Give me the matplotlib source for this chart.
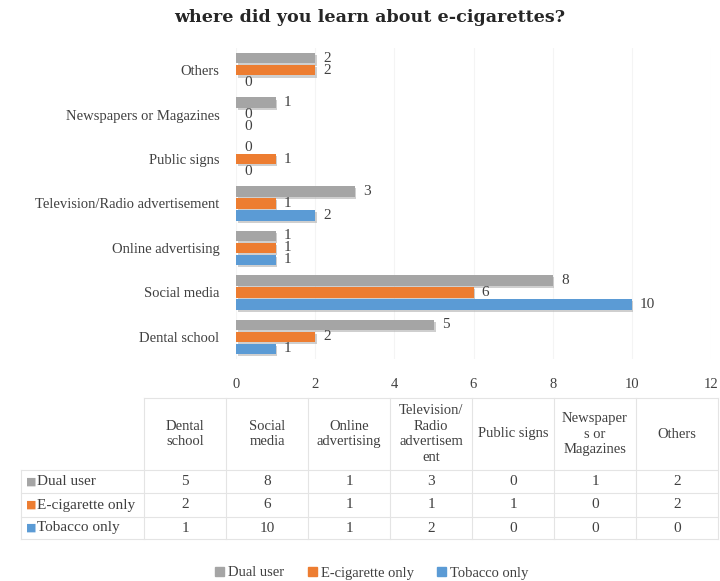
import matplotlib
matplotlib.use("Agg")
import matplotlib.pyplot as plt
import matplotlib.patheffects as pe
import numpy as np

W, H = 720, 581

categories = ["Dental school", "Social media", "Online advertising",
              "Television/Radio advertisement", "Public signs",
              "Newspapers or Magazines", "Others"]
table_headers = ["Dental\nschool", "Social\nmedia", "Online\nadvertising",
                 "Television/\nRadio\nadvertisem\nent", "Public signs",
                 "Newspaper\ns or\nMagazines", "Others"]
series = ["Dual user", "E-cigarette only", "Tobacco only"]
dual_user = [5, 8, 1, 3, 0, 1, 2]
ecig_only = [2, 6, 1, 1, 1, 0, 2]
tobacco_only = [1, 10, 1, 2, 0, 0, 0]
colors = ["#A5A5A5", "#ED7D31", "#5B9BD5"]
xticks = [0, 2, 4, 6, 8, 10, 12]

SERIF = "Liberation Serif"
TXT = "#404040"


def fx(x):
    return x / W


def fy(y):
    return 1 - y / H


fig = plt.figure(figsize=(7.2, 5.81), dpi=100)
fig.text(fx(370), fy(18), "where did you learn about e-cigarettes?",
         ha="center", va="center", fontsize=12.6, fontweight="bold",
         family="DejaVu Serif", color="#262626")

ax = fig.add_axes([fx(236), fy(359), fx(711) - fx(236), fy(48) - fy(359)])
y = np.arange(len(categories))
offsets = [0.27, 0.0, -0.27]
shadow = [pe.SimplePatchShadow(offset=(1.2, -1.5), shadow_rgbFace="#b0b0b0", alpha=0.6),
          pe.Normal()]
for vals, off, c in zip([dual_user, ecig_only, tobacco_only], offsets, colors):
    bars = ax.barh(y + off, vals, height=0.235, color=c, zorder=3)
    for b in bars:
        b.set_path_effects(shadow)
    for yi, v in zip(y + off, vals):
        ax.annotate(str(v), (v, yi), xytext=(6, 0), textcoords="offset points",
                    va="center", ha="left", fontsize=11, family=SERIF, color=TXT)

ax.set_xlim(0, 12)
ax.set_ylim(-0.5, len(categories) - 0.5)
ax.set_xticks(xticks)
ax.set_yticks(y)
ax.set_yticklabels(categories, fontsize=10.5, family=SERIF, color=TXT)
ax.tick_params(axis="x", labelsize=10.5, colors=TXT, length=0, pad=14)
ax.tick_params(axis="y", length=0, pad=12)
for lab in ax.get_xticklabels():
    lab.set_family(SERIF)
ax.grid(axis="x", color="#f4f4f4", lw=0.8, zorder=0)
for s in ax.spines.values():
    s.set_visible(False)

# data table
col_x = [144 + 82 * k for k in range(8)]
row_y = [398, 470, 493, 517, 539]
line_c = "#e4e4e4"
lines = []
for xv in col_x:
    lines.append(([xv, xv], [row_y[0], row_y[-1]]))
lines.append(([21, 21], [row_y[1], row_y[-1]]))
lines.append(([col_x[0], col_x[-1]], [row_y[0], row_y[0]]))
for yv in row_y[1:]:
    lines.append(([21, col_x[-1]], [yv, yv]))
for xs, ys in lines:
    fig.add_artist(plt.Line2D([fx(v) for v in xs], [fy(v) for v in ys],
                              color=line_c, lw=0.8))

for k, h in enumerate(table_headers):
    fig.text(fx((col_x[k] + col_x[k + 1]) / 2), fy((row_y[0] + row_y[1]) / 2), h,
             ha="center", va="center", fontsize=10.5, family=SERIF, color=TXT,
             linespacing=1.25)

for r, (name, vals, c) in enumerate(zip(series, [dual_user, ecig_only, tobacco_only], colors)):
    yc = (row_y[r + 1] + row_y[r + 2]) / 2
    fig.text(fx(26), fy(yc), "\u25a0", ha="left", va="center", fontsize=8,
             color=c, family="DejaVu Sans")
    fig.text(fx(37), fy(yc), name, ha="left", va="center", fontsize=11,
             family=SERIF, color=TXT)
    for k, v in enumerate(vals):
        fig.text(fx((col_x[k] + col_x[k + 1]) / 2), fy(yc), str(v),
                 ha="center", va="center", fontsize=11, family=SERIF, color=TXT)

# legend
handles = [plt.Rectangle((0, 0), 1, 1, color=c) for c in colors]
fig.legend(handles, series, loc="center", bbox_to_anchor=(fx(372), fy(573)),
           ncol=3, frameon=False, handlelength=0.6, handleheight=0.6,
           handletextpad=0.3, columnspacing=1.6,
           prop={"family": SERIF, "size": 10.5}, labelcolor=TXT)

fig.savefig("out.png", dpi=100)
